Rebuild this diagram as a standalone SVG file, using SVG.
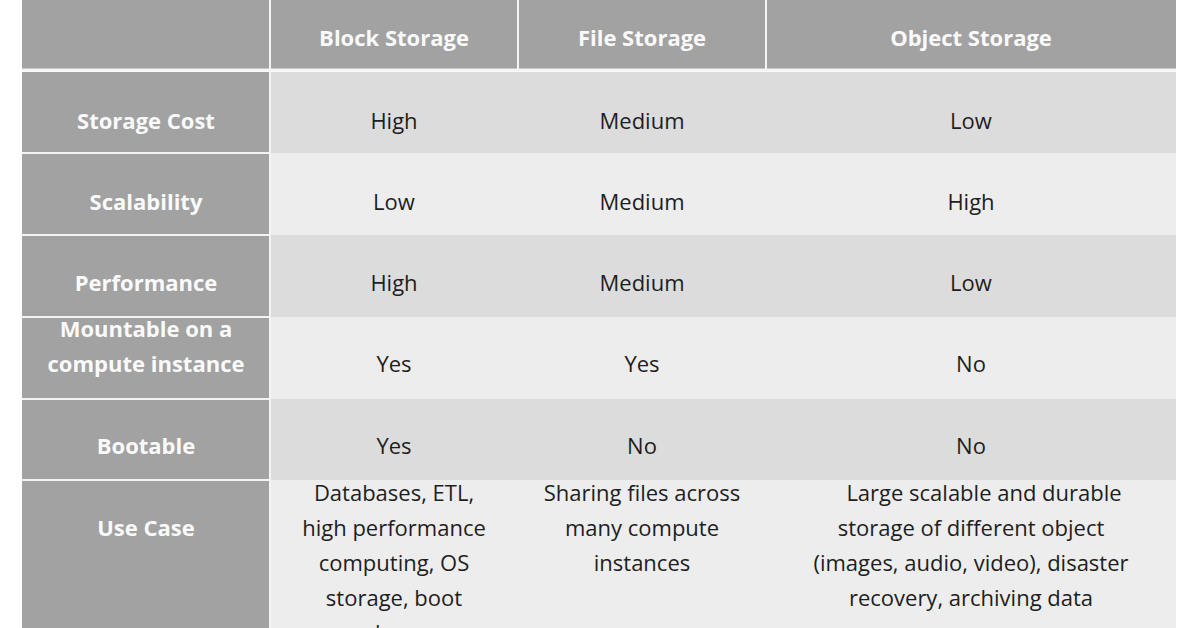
<svg xmlns="http://www.w3.org/2000/svg" width="1196" height="628" viewBox="0 0 1196 628">
<style>
.hd{fill:#a2a2a2}
.a{fill:#dcdcdc}
.b{fill:#ededed}
text{font-family:"Open Sans","Liberation Sans",sans-serif;font-size:22px;text-anchor:middle}
.w{fill:#fafafa;font-weight:bold}
.k{fill:#1e1e1e}
line{stroke:#f4f4f4;stroke-width:2}
</style>
<rect width="1196" height="628" fill="#ffffff"/>
<g id="header">
<rect class="hd" x="22" y="0" width="1154" height="69"/>
<text class="w" x="394" y="46">Block Storage</text>
<text class="w" x="642" y="46">File Storage</text>
<text class="w" x="971" y="46">Object Storage</text>
</g>
<g id="rowlabels">
<rect class="hd" x="22" y="72" width="248" height="556"/>
<text class="w" x="146" y="129">Storage Cost</text>
<text class="w" x="146" y="210">Scalability</text>
<text class="w" x="146" y="291">Performance</text>
<text class="w" x="146" y="337">Mountable on a</text>
<text class="w" x="146" y="372">compute instance</text>
<text class="w" x="146" y="454">Bootable</text>
<text class="w" x="146" y="536">Use Case</text>
</g>
<g id="cells">
<rect class="a" x="270" y="72" width="906" height="81"/>
<rect class="b" x="270" y="153" width="906" height="82"/>
<rect class="a" x="270" y="235" width="906" height="82"/>
<rect class="b" x="270" y="317" width="906" height="82"/>
<rect class="a" x="270" y="399" width="906" height="81"/>
<rect class="b" x="270" y="480" width="906" height="148"/>
<text class="k" x="394" y="129">High</text><text class="k" x="642" y="129">Medium</text><text class="k" x="971" y="129">Low</text>
<text class="k" x="394" y="210">Low</text><text class="k" x="642" y="210">Medium</text><text class="k" x="971" y="210">High</text>
<text class="k" x="394" y="291">High</text><text class="k" x="642" y="291">Medium</text><text class="k" x="971" y="291">Low</text>
<text class="k" x="394" y="372">Yes</text><text class="k" x="642" y="372">Yes</text><text class="k" x="971" y="372">No</text>
<text class="k" x="394" y="454">Yes</text><text class="k" x="642" y="454">No</text><text class="k" x="971" y="454">No</text>
<text class="k" x="394" y="501">Databases, ETL,</text>
<text class="k" x="394" y="536">high performance</text>
<text class="k" x="394" y="571">computing, OS</text>
<text class="k" x="394" y="606">storage, boot</text>
<text class="k" x="394" y="641">volumes</text>
<text class="k" x="642" y="501">Sharing files across</text>
<text class="k" x="642" y="536">many compute</text>
<text class="k" x="642" y="571">instances</text>
<text class="k" x="984" y="501">Large scalable and durable</text>
<text class="k" x="971" y="536">storage of different object</text>
<text class="k" x="971" y="571">(images, audio, video), disaster</text>
<text class="k" x="971" y="606">recovery, archiving data</text>
</g>
<g id="grid">
<line x1="22" y1="70" x2="1176" y2="70" style="stroke-width:3"/>
<line x1="270" y1="0" x2="270" y2="628"/>
<line x1="518" y1="0" x2="518" y2="69"/>
<line x1="766" y1="0" x2="766" y2="69"/>
<line x1="22" y1="153" x2="270" y2="153"/>
<line x1="22" y1="235" x2="270" y2="235"/>
<line x1="22" y1="317" x2="270" y2="317"/>
<line x1="22" y1="399" x2="270" y2="399"/>
<line x1="22" y1="480" x2="270" y2="480"/>
</g>
</svg>
